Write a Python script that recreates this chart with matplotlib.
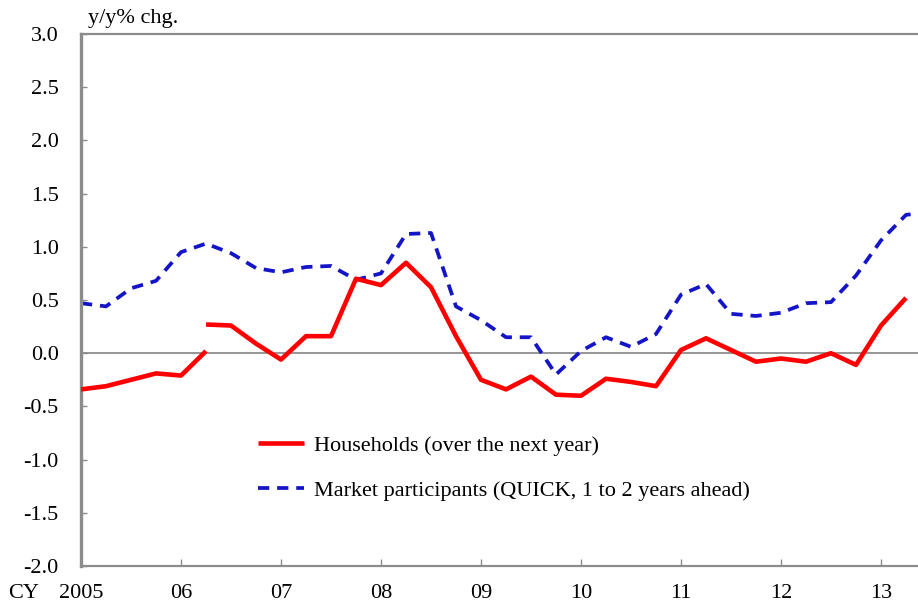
import numpy as np
import pandas as pd
import matplotlib
matplotlib.use("Agg")
import matplotlib.pyplot as plt

plt.rcParams["font.family"] = ["Liberation Serif", "DejaVu Serif"]

# ── Data (y/y % chg., quarterly from 2005Q1) ───────────────────────
households_old = [-0.34, -0.31, -0.25, -0.19, -0.21, 0.02]  # 2005Q1-2006Q2
households_new = [0.27, 0.26, 0.09, -0.06, 0.16, 0.16, 0.70, 0.64, 0.85, 0.62,
                  0.16, -0.25, -0.34, -0.22, -0.39, -0.40, -0.24, -0.27, -0.31,
                  0.03, 0.14, 0.03, -0.08, -0.05, -0.08, 0.00, -0.11, 0.26, 0.52]  # 2006Q2-
market = [0.47, 0.44, 0.61, 0.68, 0.95, 1.03, 0.94, 0.80, 0.76, 0.81, 0.82, 0.69,
          0.75, 1.12, 1.13, 0.44, 0.31, 0.15, 0.15, -0.20, 0.02, 0.15, 0.06, 0.18,
          0.55, 0.65, 0.37, 0.35, 0.38, 0.47, 0.48, 0.73, 1.06, 1.30, 1.33]  # 2005Q1-
year_ticks = [2005, 2006, 2007, 2008, 2009, 2010, 2011, 2012, 2013]
year_labels = ["2005", "06", "07", "08", "09", "10", "11", "12", "13"]
labels = ["Households (over the next year)",
          "Market participants (QUICK, 1 to 2 years ahead)"]


def qx(start, n):
    q = pd.period_range(start, periods=n, freq="Q")
    return q.year + (q.quarter - 1) / 4.0


x_old = qx("2005Q1", len(households_old))
x_new = qx("2006Q2", len(households_new))
x_mkt = qx("2005Q1", len(market))

fig = plt.figure(figsize=(9.18, 6.07), dpi=100)
ax = fig.add_axes([81 / 918, 41 / 607, 837.5 / 918, 532 / 607])

FS = 16
red = "#ff0000"
blue = "#1414c8"
ax.axhline(0, color="#8c8c8c", lw=1.3, zorder=1)
ax.plot(x_old, households_old, color=red, lw=3.3, solid_capstyle="butt", zorder=3)
ax.plot(x_new, households_new, color=red, lw=3.3, solid_capstyle="butt",
        zorder=3, label=labels[0])
ax.plot(x_mkt, market, color=blue, lw=2.7, dashes=(3.0, 2.1), zorder=2,
        label=labels[1])

ax.set_xlim(2005, 2005 + 33.5 / 4)
ax.set_ylim(-2.0, 3.0)
ax.set_yticks(np.arange(-2.0, 3.01, 0.5))
ax.set_yticklabels([f"{v:.1f}" for v in np.arange(-2.0, 3.01, 0.5)])
ax.set_xticks(year_ticks)
ax.set_xticklabels(year_labels)
ax.tick_params(axis="y", direction="in", length=4, width=1, color="#8c8c8c",
               pad=16, labelsize=FS)
ax.tick_params(axis="x", direction="in", length=5, width=1, color="#8c8c8c",
               pad=13, labelsize=FS)

for s in ["left", "bottom", "top"]:
    ax.spines[s].set_color("#8c8c8c")
ax.spines["left"].set_linewidth(2.4)
ax.spines["bottom"].set_linewidth(1.6)
ax.spines["top"].set_linewidth(1.6)
ax.spines["right"].set_visible(False)

fig.text(88 / 918, 1 - 19 / 607, "y/y% chg.", fontsize=FS, va="center", ha="left")
fig.text(8 / 918, 1 - 594 / 607, "CY", fontsize=FS, va="center", ha="left")

ax.legend(loc="upper left", bbox_to_anchor=(0.211, 0.246), frameon=False,
          fontsize=FS, handlelength=2.1, handletextpad=0.45, labelspacing=1.1,
          borderpad=0, borderaxespad=0)

fig.savefig("out.png", dpi=100)
